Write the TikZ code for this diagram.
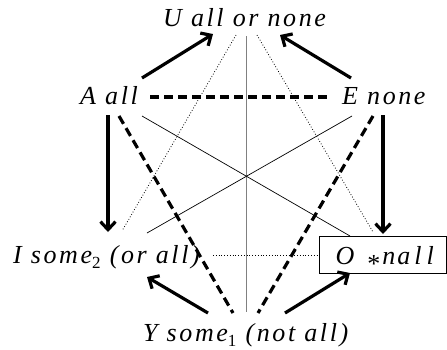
\documentclass[tikz,border=0pt]{standalone}
\usepackage{fontspec}
\setmainfont{Liberation Serif}
\newfontfamily\labfont[LetterSpace=10]{Liberation Serif}
\newfontfamily\subfont{Liberation Serif}
\usetikzlibrary{arrows.meta}
\newcommand\mysub[1]{\raisebox{-5pt}{\subfont\upshape\fontsize{17}{17}\selectfont #1}}
\newcommand\myast{\raisebox{-8pt}{\subfont\upshape\fontsize{26}{26}\selectfont *}}
\begin{document}
\begin{tikzpicture}[x=1pt,y=-1pt,
  lab/.style={inner sep=0pt, anchor=base west, font=\labfont\itshape\fontsize{26}{28}\selectfont},
  boxlab/.style={draw, line width=0.8pt, inner sep=0pt, minimum width=127pt, minimum height=36.5pt,
     text height=18pt, text depth=0pt, font=\labfont\itshape\fontsize{26}{28}\selectfont},
  thickarrow/.style={line width=3.2pt, -{Straight Barb[length=8pt,width=15pt]}},
  thickdash/.style={line width=3.2pt, dash pattern=on 9pt off 5pt},
  thinline/.style={line width=0.7pt},
  dotline/.style={line width=0.8pt, dotted},
  grayline/.style={line width=1pt, gray}]
\useasboundingbox (0,0) rectangle (447,349);
% labels
\node[lab] (U) at (163,26) {U all or none};
\node[lab] (A) at (80,104) {A all};
\node[lab] (E) at (342,104) {E none};
\node[lab] (I) at (13,263) {I some\mysub{2} (or all)};
\node[lab] (Y) at (143,341) {Y some\mysub{1} (not all)};
\node[boxlab] (O) at (382.8,255) {\hspace{4pt}O\hspace{13pt}\myast\hspace{2pt}n\kern2pt a\kern4pt l\kern5pt l};
% coordinates
\coordinate (aU1) at (142,78);  \coordinate (aU2) at (213,34);
\coordinate (eU1) at (351,78);  \coordinate (eU2) at (280,35);
\coordinate (aI1) at (108,115); \coordinate (aI2) at (108,232);
\coordinate (eO1) at (383,115); \coordinate (eO2) at (383,234);
\coordinate (yI1) at (208,313); \coordinate (yI2) at (147,277);
\coordinate (yO1) at (285,313); \coordinate (yO2) at (350,273);
\coordinate (ae1) at (150,97);  \coordinate (ae2) at (330,97);
\coordinate (ay1) at (119,116); \coordinate (ay2) at (233,313);
\coordinate (ey1) at (373,116); \coordinate (ey2) at (258,313);
\coordinate (ao1) at (142,116); \coordinate (ao2) at (350,236);
\coordinate (ei1) at (352,116); \coordinate (ei2) at (147,233);
\coordinate (ui1) at (236,35);  \coordinate (ui2) at (122,231);
\coordinate (uo1) at (257,35);  \coordinate (uo2) at (373,232);
\coordinate (io1) at (213,255); \coordinate (io2) at (318,255);
\coordinate (uy1) at (246,36);  \coordinate (uy2) at (246,312);
% lines
\draw[grayline] (uy1) -- (uy2);
\draw[thinline] (ao1) -- (ao2);
\draw[thinline] (ei1) -- (ei2);
\draw[dotline] (ui1) -- (ui2);
\draw[dotline] (uo1) -- (uo2);
\draw[dotline] (io1) -- (io2);
\draw[thickdash] (ae1) -- (ae2);
\draw[thickdash] (ay1) -- (ay2);
\draw[thickdash] (ey1) -- (ey2);
\draw[thickarrow] (aU1) -- (aU2);
\draw[thickarrow] (eU1) -- (eU2);
\draw[thickarrow] (aI1) -- (aI2);
\draw[thickarrow] (eO1) -- (eO2);
\draw[thickarrow] (yI1) -- (yI2);
\draw[thickarrow] (yO1) -- (yO2);
\end{tikzpicture}
\end{document}
